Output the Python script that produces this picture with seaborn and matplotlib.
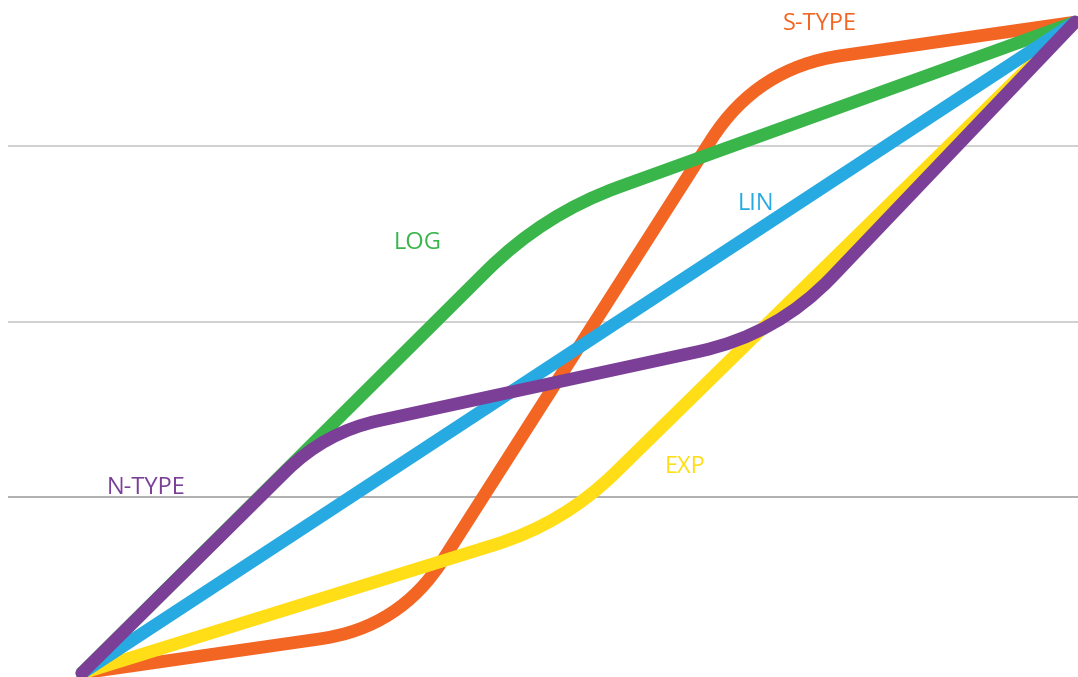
import matplotlib
matplotlib.use('Agg')
import matplotlib.pyplot as plt
import numpy as np
import pandas as pd
import seaborn as sns
from matplotlib.path import Path
from matplotlib.patches import PathPatch

sns.set_theme(style='white')
plt.rcParams['font.family'] = ['Open Sans', 'DejaVu Sans']

# вершины кривых (условные единицы 0..100)
s_type_x = [0, 32, 68, 100]
s_type_y = [0, 7, 93, 100]
log_x = [0, 46.5, 100]
log_y = [0, 70.5, 100]
exp_x = [0, 48.5, 100]
exp_y = [0, 23, 100]
lin_x = [0, 100]
lin_y = [0, 100]
n_type_x = [0, 24.5, 70, 100]
n_type_y = [0, 37, 52, 100]

grid_y = [27, 54, 81]

labels = ['S-TYPE', 'LOG', 'LIN', 'EXP', 'N-TYPE']
label_x = [74.3, 33.8, 67.9, 60.7, 6.5]
label_y = [99.7, 66.1, 72.0, 31.6, 28.4]

colors = {
    'S-TYPE': '#F26522',
    'LOG': '#39B54A',
    'EXP': '#FFDE17',
    'LIN': '#27AAE1',
    'N-TYPE': '#7B3F98',
}

LW = 9.2

fig = plt.figure(figsize=(10.78, 6.77), dpi=100)
ax = fig.add_axes([0, 0, 1, 1])
ax.set_xlim(-8.26, 100.3)
ax.set_ylim(-0.61, 103.4)
ax.axis('off')

ax.hlines(grid_y[1:], -7.45, 100.3, color='#c4c4c4', lw=1.1, zorder=0)
ax.hlines(grid_y[:1], -7.45, 100.3, color='#9a9a9a', lw=1.1, zorder=0)


def rounded_curve(xs, ys, radii, color, z):
    # скругляем углы квадратичной кривой Безье, радиус в пикселях
    pts = ax.transData.transform(np.column_stack([xs, ys]))
    verts = [pts[0]]
    codes = [Path.MOVETO]
    for i in range(1, len(pts) - 1):
        p = pts[i]
        ua = (pts[i - 1] - p) / np.linalg.norm(pts[i - 1] - p)
        ub = (pts[i + 1] - p) / np.linalg.norm(pts[i + 1] - p)
        r = radii[i - 1]
        verts += [p + ua * r, p, p + ub * r]
        codes += [Path.LINETO, Path.CURVE3, Path.CURVE3]
    verts.append(pts[-1])
    codes.append(Path.LINETO)
    path = Path(ax.transData.inverted().transform(np.array(verts)), codes)
    ax.add_patch(PathPatch(path, fill=False, ec=color, lw=LW,
                           capstyle='round', joinstyle='round', zorder=z))


rounded_curve(s_type_x, s_type_y, [80, 85], colors['S-TYPE'], 1)
rounded_curve(log_x, log_y, [80], colors['LOG'], 2)
rounded_curve(exp_x, exp_y, [72], colors['EXP'], 3)

lin_df = pd.DataFrame({'x': lin_x, 'y': lin_y})
sns.lineplot(data=lin_df, x='x', y='y', color=colors['LIN'], lw=LW,
             solid_capstyle='round', zorder=4, ax=ax)

rounded_curve(n_type_x, n_type_y, [55, 80], colors['N-TYPE'], 5)

for name, tx, ty in zip(labels, label_x, label_y):
    ax.text(tx, ty, name, color=colors[name], fontsize=17,
            ha='center', va='center', zorder=6)

ax.set_xlim(-8.26, 100.3)
ax.set_ylim(-0.61, 103.4)
ax.axis('off')

fig.savefig('out.png', dpi=100)
